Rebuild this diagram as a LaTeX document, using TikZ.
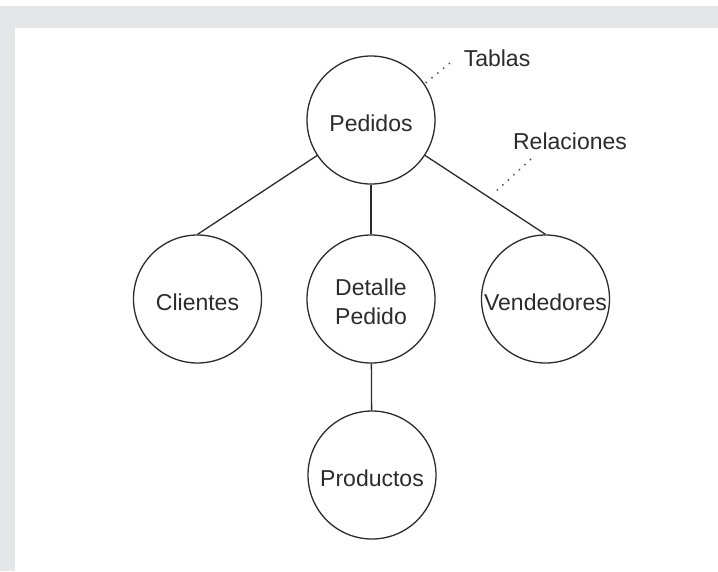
\documentclass[tikz,border=0pt]{standalone}
\usepackage{fontspec}
\setmainfont{Liberation Sans}
\definecolor{bggray}{HTML}{E5E6E8}
\definecolor{ink}{HTML}{2B2B2B}
\begin{document}
\begin{tikzpicture}[x=1pt,y=-1pt,
  tabla/.style={circle, draw=ink, line width=1.3pt, minimum size=128pt, inner sep=0pt},
  texto/.style={text=ink, font=\fontsize{23}{29}\selectfont, align=center, inner sep=0pt, yshift=-3pt},
  rel/.style={draw=ink, line width=1.3pt},
  nota/.style={draw=ink!80, line width=1.5pt, dash pattern=on 1.5pt off 6pt},
  etiqueta/.style={text=ink, font=\fontsize{23}{28}\selectfont, inner sep=0pt}]
\useasboundingbox (0,0) rectangle (718,571);
\fill[white] (0,0) rectangle (718,571);
\fill[bggray] (0,6) rectangle (718,28);
\fill[bggray] (0,6) rectangle (15,571);

\node[tabla, label={[texto]center:Pedidos}] (Pedidos) at (371,120) {};
\node[tabla, label={[texto]center:Clientes}] (Clientes) at (197.5,299) {};
\node[tabla, label={[texto]center:Detalle\\Pedido}] (Detalle) at (371,299) {};
\node[tabla, label={[texto]center:Vendedores}] (Vendedores) at (545.5,299) {};
\node[tabla, label={[texto]center:Productos}] (Productos) at (372,475) {};

\node[etiqueta] (Tablas) at (497,58) {Tablas};
\node[etiqueta] (Relaciones) at (570,141) {Relaciones};

\draw[rel] (Pedidos) -- (Clientes.north);
\draw[rel] (Pedidos) -- (Detalle);
\draw[rel] (Pedidos) -- (Vendedores.north);
\draw[rel] (Detalle) -- (Productos);

\coordinate (t1) at (450,63);
\coordinate (r1) at (531,159);
\coordinate (r2) at (493,194);
\draw[nota] (t1) -- (Pedidos.34);
\draw[nota] (r1) -- (r2);
\end{tikzpicture}
\end{document}
